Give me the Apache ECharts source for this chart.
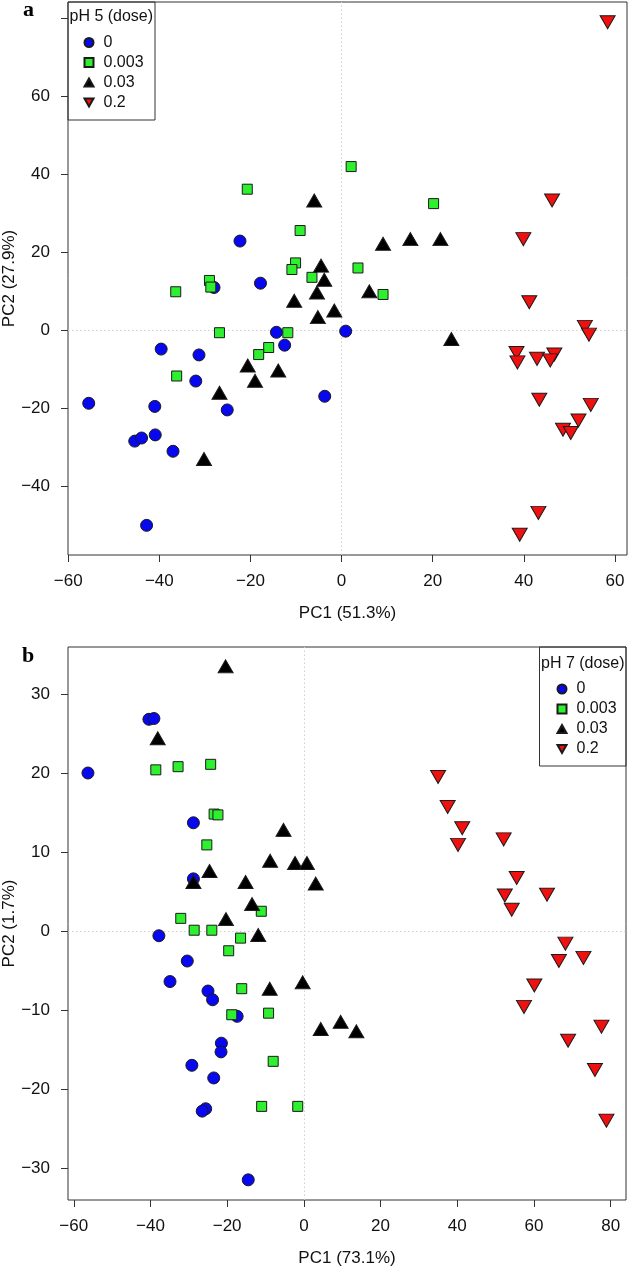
<!DOCTYPE html>
<html><head><meta charset="utf-8">
<script src="https://cdn.jsdelivr.net/npm/echarts@6/dist/echarts.min.js"></script>
<style>html,body{margin:0;padding:0;background:#fff}#c{width:630px;height:1269px}</style>
</head><body><div id="c"></div><script>
// ---- data ----
const doseNames = ['0', '0.003', '0.03', '0.2'];

// Panel a: pH 5
const a_dose0 = [[-55.5,-18.7],[-39.6,-4.8],[-31.3,-6.3],[-32.0,-13.0],[-41.0,-19.5],[-45.4,-28.4],[-43.9,-27.6],[-40.9,-26.8],[-37.0,-31.0],[-25.1,-20.4],[-42.8,-50.0],[-14.3,-0.5],[-12.5,-3.8],[-3.7,-16.9],[0.9,-0.2],[-22.3,22.9],[-17.8,12.1],[-28.0,11.0]];
const a_dose003 = [[-20.7,36.2],[-9.1,25.6],[-10.1,17.3],[-10.9,15.6],[-6.5,13.6],[-36.4,9.9],[-29.0,12.8],[-28.7,11.1],[2.1,42.0],[20.2,32.5],[3.6,16.0],[9.1,9.2],[-26.8,-0.6],[-11.8,-0.6],[-16.0,-4.4],[-36.2,-11.7],[-18.2,-6.2]];
const a_dose03 = [[-6.0,33.3],[9.1,22.2],[15.1,23.4],[21.7,23.4],[-4.5,16.6],[-3.8,13.0],[-5.4,9.7],[-10.4,7.6],[6.1,10.0],[-1.6,5.1],[-5.2,3.4],[24.1,-2.2],[-20.6,-9.0],[-19.0,-12.9],[-13.9,-10.3],[-26.8,-16.0],[-30.2,-33.0]];
const a_dose2 = [[58.4,79.0],[46.2,33.3],[39.9,23.4],[41.2,7.2],[53.4,0.9],[54.3,-1.1],[38.4,-5.8],[38.6,-8.2],[42.9,-7.3],[46.7,-6.2],[45.8,-7.7],[43.4,-17.8],[54.7,-19.1],[52.0,-23.1],[48.6,-25.5],[50.3,-26.3],[43.2,-46.8],[39.1,-52.4]];

// Panel b: pH 7
const b_dose0 = [[-56.3,20.0],[-40.4,26.8],[-39.1,26.9],[-28.8,13.7],[-28.8,6.6],[-37.8,-0.6],[-30.4,-3.8],[-34.9,-6.4],[-25.0,-7.6],[-23.8,-8.7],[-17.4,-10.8],[-21.5,-14.2],[-21.6,-15.3],[-29.2,-17.0],[-23.5,-18.6],[-25.6,-22.5],[-26.5,-22.8],[-14.5,-31.5]];
const b_dose003 = [[-38.6,20.4],[-32.8,20.8],[-24.3,21.1],[-23.4,14.8],[-22.4,14.7],[-25.3,10.9],[-11.1,2.5],[-32.1,1.6],[-28.6,0.1],[-24.0,0.1],[-16.5,-0.9],[-19.6,-2.5],[-16.2,-7.3],[-18.8,-10.6],[-9.2,-10.4],[-8.0,-16.5],[-11.0,-22.2],[-1.6,-22.2]];
const b_dose03 = [[-20.4,33.5],[-38.1,24.4],[-5.3,12.8],[-8.8,8.9],[-2.3,8.6],[0.8,8.6],[3.1,6.0],[-24.6,7.6],[-28.8,6.2],[-15.2,6.2],[-13.5,3.4],[-20.3,1.5],[-11.9,-0.5],[-8.9,-7.3],[-0.3,-6.5],[4.4,-12.4],[9.6,-11.5],[13.7,-12.7]];
const b_dose2 = [[35.0,19.5],[37.5,15.7],[41.3,13.0],[40.2,10.9],[52.1,11.6],[55.5,6.7],[52.4,4.5],[54.2,2.7],[63.4,4.6],[68.2,-1.6],[66.5,-3.8],[72.9,-3.4],[60.1,-6.9],[57.4,-9.6],[77.6,-12.1],[68.9,-13.9],[75.9,-17.6],[78.9,-24.0]];

// tick values
const a_xTicks = [-60, -40, -20, 0, 20, 40, 60];
const a_yTicks = [-40, -20, 0, 20, 40, 60, 80];
const a_yLabels = [-40, -20, 0, 20, 40, 60];
const b_xTicks = [-60, -40, -20, 0, 20, 40, 60, 80];
const b_yTicks = [-30, -20, -10, 0, 10, 20, 30];

const titlesText = { a: 'pH 5 (dose)', b: 'pH 7 (dose)' };
const axisNames = { ax: 'PC1 (51.3%)', ay: 'PC2 (27.9%)', bx: 'PC1 (73.1%)', by: 'PC2 (1.7%)' };

// ---- styling ----
const FONT = "'Liberation Sans', Arial, Helvetica, sans-serif";
const TXT = '#111';
const fmt = v => String(v).replace('-', '\u2212');
const DOWN = 'path://M0,0L20,0L10,17.32Z';
const UP = 'path://M10,0L20,17.32L0,17.32Z';
const SQ = 'path://M0,0L10,0L10,10L0,10Z';
const styles = [
  { symbol: 'circle', size: 12, color: '#0707f0' },
  { symbol: SQ, size: 10, color: '#2ff02f' },
  { symbol: UP, size: [15, 13], color: '#000000' },
  { symbol: DOWN, size: [15, 13], color: '#f01010' }
];

function xAx(gi, min, max, ticks, labels, name) {
  return {
    type: 'value', gridIndex: gi, min, max, name, nameLocation: 'middle', nameGap: 50,
    nameMoveOverlap: false,
    nameTextStyle: { fontFamily: FONT, fontSize: 17, color: TXT },
    axisLine: { show: false, onZero: false },
    axisTick: { show: true, length: 7, customValues: ticks, lineStyle: { color: '#333' } },
    axisLabel: { customValues: labels, margin: 18, fontFamily: FONT, fontSize: 17, color: TXT, formatter: fmt },
    splitLine: { show: false }
  };
}
function yAx(gi, min, max, ticks, labels, name) {
  return {
    type: 'value', gridIndex: gi, min, max, name, nameLocation: 'middle', nameGap: 50,
    nameMoveOverlap: false,
    nameTextStyle: { fontFamily: FONT, fontSize: 17, color: TXT },
    axisLine: { show: false, onZero: false },
    axisTick: { show: true, length: 7, customValues: ticks, lineStyle: { color: '#333' } },
    axisLabel: { customValues: labels, margin: 18, fontFamily: FONT, fontSize: 17, color: TXT, formatter: fmt },
    splitLine: { show: false }
  };
}
function mkSeries(gi, datasets) {
  return datasets.map((d, i) => {
    const s = {
      type: 'scatter', name: doseNames[i], xAxisIndex: gi, yAxisIndex: gi, data: d, z: 10,
      symbol: styles[i].symbol, symbolSize: styles[i].size, symbolKeepAspect: false,
      itemStyle: { color: styles[i].color, borderColor: '#1a1a1a', borderWidth: 1, opacity: 1 },
      emphasis: { disabled: true }
    };
    if (i === 0) {
      s.markLine = {
        silent: true, symbol: 'none', label: { show: false }, animation: false,
        lineStyle: { type: [1.5, 2.5], color: '#cfcfcf', width: 1 },
        emphasis: { disabled: true },
        data: [{ xAxis: 0 }, { yAxis: 0 }]
      };
    }
    return s;
  });
}
function legend(left, top) {
  return {
    orient: 'vertical', left, top, padding: 0, itemWidth: 9, itemHeight: 9, itemGap: 4,
    selectedMode: false, symbolKeepAspect: true,
    textStyle: { fontFamily: FONT, fontSize: 16, color: TXT, padding: [0, 0, 0, 5] },
    data: doseNames.map((n, i) => ({ name: n, icon: styles[i].symbol }))
  };
}

const chart = echarts.init(document.getElementById('c'), null, { renderer: 'canvas' });
chart.setOption({
  animation: false,
  backgroundColor: '#fff',
  grid: [
    { left: 68, top: 2, width: 559, height: 553, show: true, borderColor: '#333', borderWidth: 1, containLabel: false, outerBoundsMode: 'none' },
    { left: 68, top: 647, width: 558, height: 553, show: true, borderColor: '#333', borderWidth: 1, containLabel: false, outerBoundsMode: 'none' }
  ],
  xAxis: [
    xAx(0, -60.05, 62.65, a_xTicks, a_xTicks, axisNames.ax),
    xAx(1, -61.5, 84.0, b_xTicks, b_xTicks, axisNames.bx)
  ],
  yAxis: [
    yAx(0, -57.6, 84.2, a_yTicks, a_yLabels, axisNames.ay),
    yAx(1, -34.05, 35.95, b_yTicks, b_yTicks, axisNames.by)
  ],
  legend: [legend(83.5, 34.5), legend(556.5, 681)],
  series: [
    ...mkSeries(0, [a_dose0, a_dose003, a_dose03, a_dose2]),
    ...mkSeries(1, [b_dose0, b_dose003, b_dose03, b_dose2])
  ],
  graphic: [
    { type: 'rect', shape: { x: 68, y: 2, width: 87, height: 118 }, style: { fill: 'none', stroke: '#333', lineWidth: 1 } },
    { type: 'rect', shape: { x: 539.5, y: 647, width: 86.5, height: 119 }, style: { fill: 'none', stroke: '#333', lineWidth: 1 } },
    { type: 'text', x: 69.5, y: 17, style: { text: titlesText.a, font: "16px 'Liberation Sans', Arial, sans-serif", fill: TXT, verticalAlign: 'middle' } },
    { type: 'text', x: 541, y: 663.5, style: { text: titlesText.b, font: "16px 'Liberation Sans', Arial, sans-serif", fill: TXT, verticalAlign: 'middle' } },
    { type: 'text', x: 23, y: 10.5, style: { text: 'a', font: "bold 22px 'Liberation Serif', 'DejaVu Serif', serif", fill: '#000', verticalAlign: 'middle' } },
    { type: 'text', x: 22, y: 656.5, style: { text: 'b', font: "bold 22px 'Liberation Serif', 'DejaVu Serif', serif", fill: '#000', verticalAlign: 'middle' } }
  ]
});
</script></body></html>
